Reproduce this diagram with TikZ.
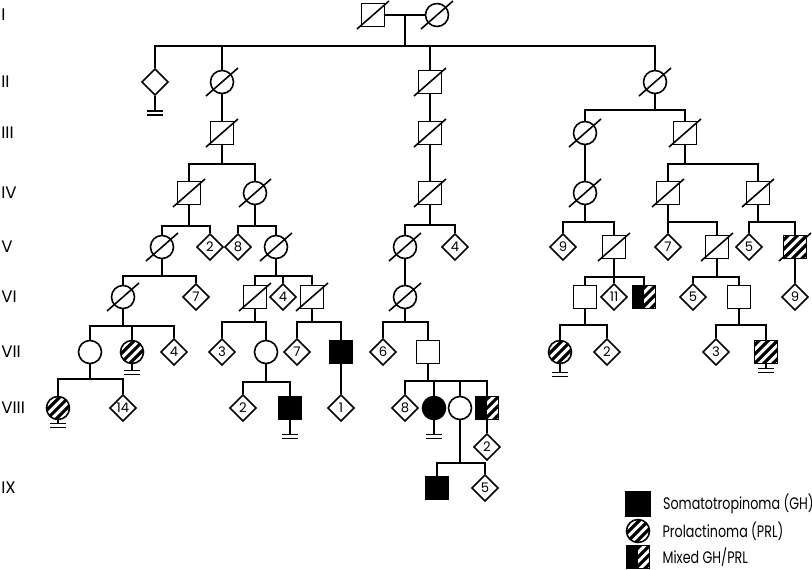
\documentclass[tikz,border=0pt]{standalone}
\usepackage{fontspec}
\newfontfamily\pedfont[FakeStretch=0.76]{Poppins}
\newfontfamily\genfont{Poppins}
\usetikzlibrary{calc, positioning, shapes.geometric}

\begin{document}
\begin{tikzpicture}[
  x=0.02cm, y=-0.02cm,
  line/.style={line width=0.9pt},
  ind/.style={draw, line width=0.9pt, inner sep=0pt, fill=white},
  male/.style={ind, rectangle, minimum size=0.46cm},
  female/.style={ind, circle, minimum size=0.46cm},
  unk/.style={ind, diamond, minimum size=0.53cm, font=\genfont\fontsize{7.5}{8}\selectfont},
  gh/.style={fill=black},
  prl/.style={path picture={
    \foreach \k in {-5,...,5}
      \draw[black, line width=1.8pt] ([shift={(\k*4.6-20,\k*4.6+20)}]path picture bounding box.center) -- ++(40,-40);
  }},
  mixed/.style={path picture={
    \foreach \k in {-5,...,5}
      \draw[black, line width=1.8pt] ([shift={(\k*4.6-20,\k*4.6+20)}]path picture bounding box.center) -- ++(40,-40);
    \fill[black] (path picture bounding box.south west) rectangle (path picture bounding box.north);
  }},
  gen/.style={anchor=west, inner sep=0pt, font=\genfont\fontsize{9.5}{10}\selectfont},
  legtext/.style={anchor=west, inner sep=0pt, font=\pedfont\fontsize{9.5}{10}\selectfont},
]
\useasboundingbox (0,0) rectangle (812,569);

% generation labels
\foreach \g/\y in {I/15,II/82,III/133,IV/193,V/247,VI/297,VII/352,VIII/408,IX/488}
  \node[gen] (g\g) at (1,\y) {\g};

% I
\node[male] (I1) at (373,15) {};
\node[female] (I2) at (437,15) {};
% II
\node[unk] (II1) at (155,82) {};
\node[female] (II2) at (222,82) {};
\node[male] (II3) at (430,82) {};
\node[female] (II4) at (655,82) {};
% III
\node[male] (III1) at (222,133) {};
\node[male] (III2) at (430,133) {};
\node[female] (III3) at (585,133) {};
\node[male] (III4) at (685,133) {};
% IV
\node[male] (IV1) at (189,193) {};
\node[female] (IV2) at (255,193) {};
\node[male] (IV3) at (430,193) {};
\node[female] (IV4) at (585,193) {};
\node[male] (IV5) at (668,193) {};
\node[male] (IV6) at (758,193) {};
% V
\node[female] (V1) at (162,247) {};
\node[unk] (V2) at (210,247) {2};
\node[unk] (V3) at (238,247) {8};
\node[female] (V4) at (276,247) {};
\node[female] (V5) at (405,247) {};
\node[unk] (V6) at (455,247) {4};
\node[unk] (V7) at (563,247) {9};
\node[male] (V8) at (614,247) {};
\node[unk] (V9) at (668,247) {7};
\node[male] (V10) at (717,247) {};
\node[unk] (V11) at (749,247) {5};
\node[male, prl] (V12) at (795,247) {};
% VI
\node[female] (VI1) at (123,297) {};
\node[unk] (VI2) at (196,297) {7};
\node[male] (VI3) at (255,297) {};
\node[unk] (VI4) at (283,297) {4};
\node[male] (VI5) at (312,297) {};
\node[female] (VI6) at (405,297) {};
\node[male] (VI7) at (585,297) {};
\node[unk] (VI8) at (614,297) {11};
\node[male, mixed] (VI9) at (644,297) {};
\node[unk] (VI10) at (693,297) {5};
\node[male] (VI11) at (739,297) {};
\node[unk] (VI12) at (795,297) {9};
% VII
\node[female] (VII1) at (90,352) {};
\node[female, prl] (VII2) at (132,352) {};
\node[unk] (VII3) at (174,352) {4};
\node[unk] (VII4) at (222,352) {3};
\node[female] (VII5) at (266,352) {};
\node[unk] (VII6) at (297,352) {7};
\node[male, gh] (VII7) at (341,352) {};
\node[unk] (VII8) at (383,352) {6};
\node[male] (VII9) at (428,352) {};
\node[female, prl] (VII10) at (560,352) {};
\node[unk] (VII11) at (607,352) {2};
\node[unk] (VII12) at (716,352) {3};
\node[male, prl] (VII13) at (766,352) {};
% VIII
\node[female, prl] (VIII1) at (58,408) {};
\node[unk] (VIII2) at (123,408) {14};
\node[unk] (VIII3) at (243,408) {2};
\node[male, gh] (VIII4) at (290,408) {};
\node[unk] (VIII5) at (341,408) {1};
\node[unk] (VIII6) at (405,408) {8};
\node[female, gh] (VIII7) at (434,408) {};
\node[female] (VIII8) at (460,408) {};
\node[male, mixed] (VIII9) at (487,408) {};
\node[unk] (VIII10) at (487,447) {2};
% IX
\node[male, gh] (IX1) at (437,488) {};
\node[unk] (IX2) at (485,488) {5};

% sibship lines
\coordinate (m0) at ($(I1)!0.5!(I2)$);
\coordinate (s1) at (405,46);
\coordinate (s2) at (655,110);
\coordinate (s3) at (222,164);
\coordinate (s4) at (685,164);
\coordinate (s5) at (189,226);
\coordinate (s6) at (255,226);
\coordinate (s7) at (430,225);
\coordinate (s8) at (585,222);
\coordinate (s9) at (668,222);
\coordinate (s10) at (758,222);
\coordinate (s11) at (162,276);
\coordinate (s12) at (276,276);
\coordinate (s13) at (614,277);
\coordinate (s14) at (717,277);
\coordinate (s15) at (123,326);
\coordinate (s16) at (255,322);
\coordinate (s17) at (312,322);
\coordinate (s18) at (405,322);
\coordinate (s19) at (585,325);
\coordinate (s20) at (739,325);
\coordinate (s21) at (90,379);
\coordinate (s22) at (266,382);
\coordinate (s23) at (428,381);
\coordinate (s24) at (460,463);

\draw[line] (I1) -- (I2);
\draw[line] (m0) -- (s1);
\draw[line] (II1) |- (s1) -| (II4);
\draw[line] (II2) -- (II2 |- s1);
\draw[line] (II3) -- (II3 |- s1);

\foreach \p/\s/\a/\b in {II4/s2/III3/III4, III1/s3/IV1/IV2, III4/s4/IV5/IV6,
    IV1/s5/V1/V2, IV2/s6/V3/V4, IV3/s7/V5/V6, IV4/s8/V7/V8, IV5/s9/V9/V10,
    IV6/s10/V11/V12, V1/s11/VI1/VI2, V4/s12/VI3/VI5, V8/s13/VI7/VI9,
    V10/s14/VI10/VI11, VI1/s15/VII1/VII3, VI3/s16/VII4/VII5, VI5/s17/VII6/VII7,
    VI6/s18/VII8/VII9, VI7/s19/VII10/VII11, VI11/s20/VII12/VII13,
    VII1/s21/VIII1/VIII2, VII5/s22/VIII3/VIII4, VII9/s23/VIII6/VIII9,
    VIII8/s24/IX1/IX2} {
  \draw[line] (\p) -- (\s);
  \draw[line] (\a) |- (\s) -| (\b);
}
\foreach \c/\s in {VI4/s12, VI8/s13, VII2/s15, VIII7/s23, VIII8/s23}
  \draw[line] (\c) -- (\c |- \s);

% single children
\foreach \p/\c in {II2/III1, II3/III2, III2/IV3, III3/IV4, V5/VI6, V12/VI12,
    VII7/VIII5, VIII9/VIII10}
  \draw[line] (\p) -- (\c);

% deceased
\foreach \n in {I1,I2,II2,II3,II4,III1,III2,III3,III4,IV1,IV2,IV3,IV4,IV5,IV6,
    V1,V4,V5,V8,V10,V12,VI1,VI3,VI5,VI6}
  \draw[line] ([shift={(-16,14)}]\n.center) -- ([shift={(16,-14)}]\n.center);

% no offspring
\foreach \n/\t in {II1/15, VII2/6, VII10/8, VII13/4, VIII1/3, VIII4/14, VIII7/14}
  \draw[line] (\n.south) -- ++(0,\t) ++(-8,0) -- ++(16,0) ++(-16,4) -- ++(16,0);

% legend
\node[male, gh, minimum size=0.48cm] (L1) at (638,504) {};
\node[female, prl] (L2) at (638,531) {};
\node[male, mixed] (L3) at (638,557) {};
\node[legtext, right=0.24cm of L1] (T1) {Somatotropinoma (GH)};
\node[legtext, right=0.24cm of L2] (T2) {Prolactinoma (PRL)};
\node[legtext, right=0.24cm of L3] (T3) {Mixed GH/PRL};
\end{tikzpicture}
\end{document}
